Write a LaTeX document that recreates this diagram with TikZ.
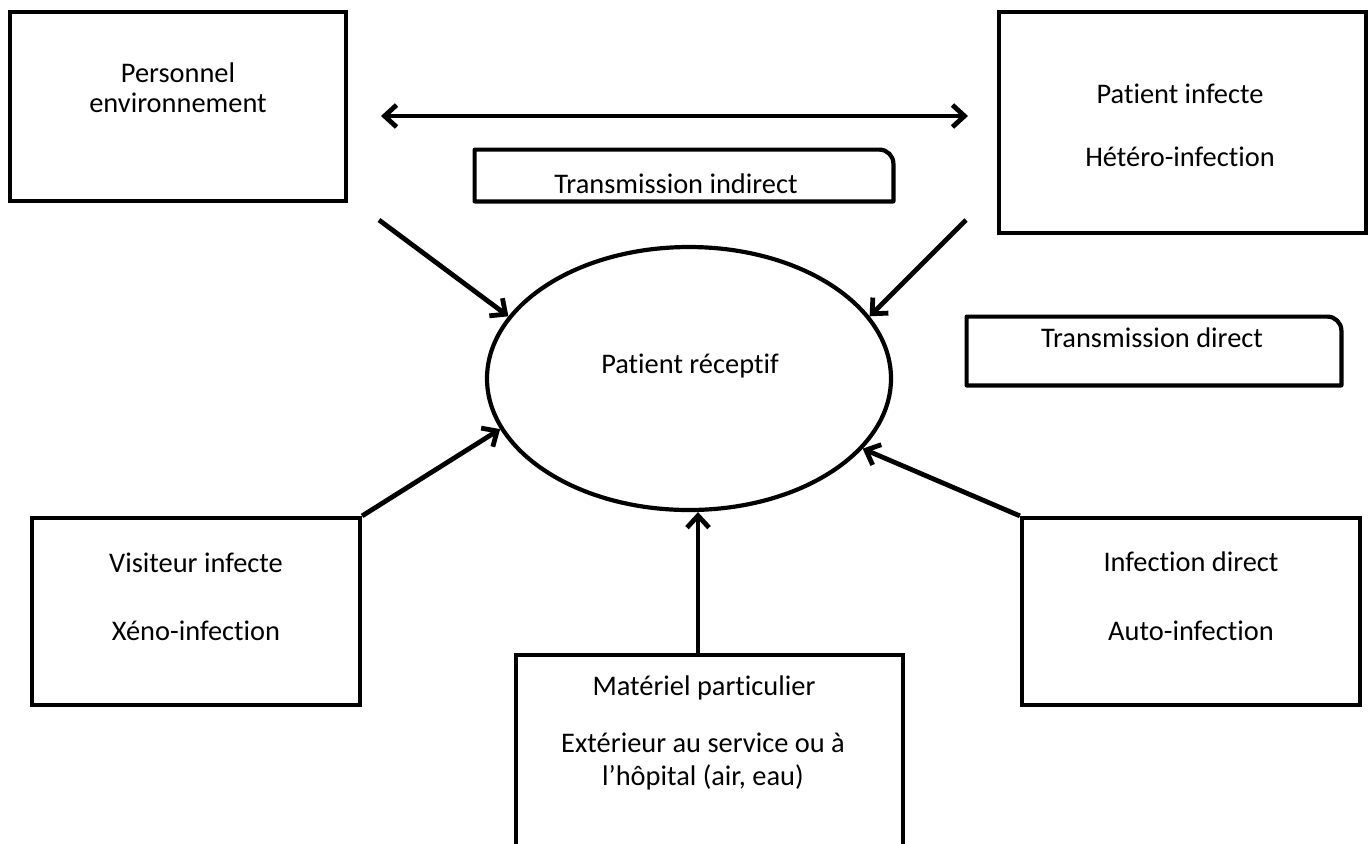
\documentclass[tikz,border=0pt]{standalone}
\usepackage{fontspec}
\setmainfont{Carlito}[Ligatures={NoCommon,NoRare,NoContextual}]
\usetikzlibrary{arrows.meta,shapes.geometric}
\begin{document}
\begin{tikzpicture}[x=0.5pt,y=-0.5pt,
  box/.style={draw,line width=2.1pt,inner sep=0pt,rectangle},
  tagbox/.style={inner sep=0pt,rectangle},
  tagline/.style={line width=2.1pt,line join=round},
  txt/.style={anchor=base,inner sep=0pt,font=\fontsize{14.2pt}{16pt}\selectfont},
  arr/.style={line width=2.4pt,-{Straight Barb[length=6pt,width=11pt]}},
  darr/.style={line width=2.4pt,{Straight Barb[length=6pt,width=11pt]}-{Straight Barb[length=6pt,width=11pt]}}]
\useasboundingbox (0,0) rectangle (1370,843);
\clip (0,0) rectangle (1370,843);
\fill[white] (0,0) rectangle (1370,843);

% boxes
\node[box,minimum width=168pt,minimum height=94.5pt] (pers) at (178,106.5) {};
\node[box,minimum width=183.5pt,minimum height=110.5pt] (pinf) at (1182.5,122.5) {};
\node[box,minimum width=164pt,minimum height=93.5pt] (vis) at (196,611.5) {};
\node[box,minimum width=169pt,minimum height=93.5pt] (idir) at (1191,611.5) {};
\node[box,minimum width=193.5pt,minimum height=122.5pt] (mat) at (709.5,777.5) {};
\node[draw,ellipse,line width=2.1pt,inner sep=0pt,minimum width=202pt,minimum height=131.5pt] (rec) at (689,378.5) {};

% label boxes with rounded top-right corner
\node[tagbox,minimum width=209pt,minimum height=25.5pt] (tind) at (684,175.5) {};
\draw[tagline] (tind.south west) -- (tind.north west) -- ([xshift=-7pt]tind.north east)
  arc[start angle=90,end angle=0,radius=7pt] -- (tind.south east) -- cycle;
\node[tagbox,minimum width=187pt,minimum height=34pt] (tdir) at (1154,351) {};
\draw[tagline] (tdir.south west) -- (tdir.north west) -- ([xshift=-7pt]tdir.north east)
  arc[start angle=90,end angle=0,radius=7pt] -- (tdir.south east) -- cycle;

% texts
\node[txt] (t1a) at (178,82) {Personnel};
\node[txt] (t1b) at (178,112) {environnement};
\node[txt] (t2a) at (1180,103) {Patient infecte};
\node[txt] (t2b) at (1180,166) {Hétéro-infection};
\node[txt] (t3a) at (196,572) {Visiteur infecte};
\node[txt] (t3b) at (196,640) {Xéno-infection};
\node[txt] (t4a) at (1191,571) {Infection direct};
\node[txt] (t4b) at (1191,640) {Auto-infection};
\node[txt] (t5a) at (704,695) {Matériel particulier};
\node[txt] (t5b) at (703,752) {Extérieur au service ou à};
\node[txt] (t5c) at (703,785) {l’hôpital (air, eau)};
\node[txt] (t6) at (676,193) {Transmission indirect};
\node[txt] (t7) at (1152,347) {Transmission direct};
\node[txt] (t8) at (690,373) {Patient réceptif};

% connectors
\coordinate (d1) at (381,116);
\coordinate (d2) at (968,116);
\draw[darr] (d1) -- (d2);
\coordinate (p1) at (379,220);
\draw[arr] (p1) -- (rec.161);
\coordinate (p2) at (966,220);
\draw[arr] (p2) -- (rec.19);
\draw[arr] (vis.north east) -- (rec.195);
\draw[arr] (idir.north west) -- (rec.338);
\coordinate (p3) at (698,655);
\draw[arr] (p3) -- (p3 |- rec.south);
\end{tikzpicture}
\end{document}
